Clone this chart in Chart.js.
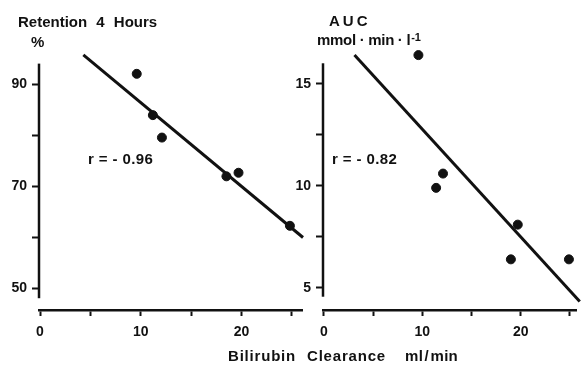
<!DOCTYPE html>
<html>
<head>
<meta charset="utf-8">
<script src="https://cdn.jsdelivr.net/npm/chart.js@4/dist/chart.umd.min.js"></script>
<style>
  body { margin: 0; background: #fff; width: 582px; height: 365px; position: relative; overflow: hidden;
         font-family: "Liberation Sans", Arial, sans-serif; font-weight: bold; color: #111; }
  .panel { position: absolute; top: 0; height: 365px; }
  .t { position: absolute; white-space: nowrap; font-size: 15px; line-height: 15px; }
  sup { font-size: 11px; position: relative; top: -4px; vertical-align: baseline; margin-left: 1px; }
</style>
</head>
<body>
<div class="panel" style="left:0;width:310px"><canvas id="left" width="310" height="365"></canvas></div>
<div class="panel" style="left:283px;width:299px"><canvas id="right" width="299" height="365"></canvas></div>

<div class="t" style="left:18px;top:14px;word-spacing:5px">Retention 4 Hours</div>
<div class="t" style="left:31px;top:34px">%</div>
<div class="t" style="left:88px;top:151px;letter-spacing:0.4px">r = - 0.96</div>
<div class="t" style="left:329px;top:13px;letter-spacing:3px">AUC</div>
<div class="t" style="left:317px;top:32px;letter-spacing:-0.3px">mmol · min · l<sup>-1</sup></div>
<div class="t" style="left:332px;top:151px;letter-spacing:0.4px">r = - 0.82</div>
<div class="t" style="left:228px;top:348px;letter-spacing:0.8px">Bilirubin</div>
<div class="t" style="left:307px;top:348px;letter-spacing:0.8px">Clearance</div>
<div class="t" style="left:405px;top:348px;letter-spacing:0.3px;word-spacing:-3px">ml / min</div>

<script>
// bilirubin clearance (ml/min) vs 4 hour retention (%)
var clearanceA = [9.6, 11.2, 12.1, 18.5, 19.7, 24.8];
var retention = [92.0, 83.9, 79.5, 71.9, 72.6, 62.2];
var fitXA = [4.3, 26.1];
var fitRetention = [95.7, 59.9];

// bilirubin clearance vs AUC (mmol.min/l)
var clearanceB = [9.6, 11.4, 12.1, 19.0, 19.7, 24.9];
var auc = [16.4, 9.9, 10.6, 6.4, 8.1, 6.4];
var fitXB = [3.1, 26.0];
var fitAuc = [16.4, 4.34];

var xLabels = [0, 10, 20];
var retentionLabels = [50, 70, 90];
var aucLabels = [5, 10, 15];

var INK = '#111';
var tickFont = { family: '"Liberation Sans", Arial, sans-serif', weight: 'bold', size: 14 };

function pairs(xs, ys) {
  return xs.map(function (x, i) { return { x: x, y: ys[i] }; });
}

// y axis line only spans part of the plot area
var axisLine = {
  id: 'axisLine',
  beforeDatasetsDraw: function (chart, args, opts) {
    var y = chart.scales.y, ctx = chart.ctx, left = chart.chartArea.left;
    ctx.save();
    ctx.strokeStyle = INK;
    ctx.lineWidth = 2.5;
    ctx.beginPath();
    ctx.moveTo(left, y.getPixelForValue(opts.from));
    ctx.lineTo(left, y.getPixelForValue(opts.to));
    ctx.stroke();
    ctx.restore();
  }
};

function makePanel(id, xs, ys, fx, fy, cfg) {
  return new Chart(document.getElementById(id), {
    type: 'scatter',
    data: {
      datasets: [
        { data: pairs(xs, ys), backgroundColor: INK, borderColor: INK, pointRadius: 4.5, pointHoverRadius: 4.5 },
        { data: pairs(fx, fy), showLine: true, borderColor: INK, borderWidth: 3, pointRadius: 0, clip: false }
      ]
    },
    options: {
      responsive: false,
      animation: false,
      layout: { padding: { top: 50, right: cfg.padRight, left: 0, bottom: 0 } },
      plugins: { legend: { display: false }, tooltip: { enabled: false }, axisLine: { from: cfg.lineFrom, to: cfg.lineTo } },
      scales: {
        x: {
          type: 'linear', min: cfg.xMin, max: cfg.xMax,
          afterFit: function (s) { s.height = 55; },
          border: { display: true, color: INK, width: 2.5 },
          grid: { drawOnChartArea: false, drawTicks: true, tickLength: 6, tickWidth: 2, tickColor: INK },
          ticks: {
            stepSize: 5, includeBounds: false, autoSkip: false, maxRotation: 0, padding: 8,
            color: INK, font: tickFont,
            callback: function (v) { return xLabels.indexOf(v) >= 0 ? String(v) : ''; }
          }
        },
        y: {
          type: 'linear', min: cfg.yMin, max: cfg.yMax,
          afterFit: function (s) { s.width = cfg.yWidth; },
          border: { display: false },
          grid: { drawOnChartArea: false, drawTicks: true, tickLength: 7, tickWidth: 2, tickColor: INK },
          ticks: {
            stepSize: cfg.yStep, includeBounds: false, autoSkip: false, padding: 5,
            color: INK, font: tickFont,
            callback: function (v) { return cfg.yLabels.indexOf(v) >= 0 ? String(v) : ''; }
          }
        }
      }
    },
    plugins: [axisLine]
  });
}

makePanel('left', clearanceA, retention, fitXA, fitRetention, {
  padRight: 8, xMin: -0.1, xMax: 26.0, yMin: 45.69, yMax: 96.67, yStep: 10,
  yWidth: 39, yLabels: retentionLabels, lineFrom: 48, lineTo: 94
});
makePanel('right', clearanceB, auc, fitXB, fitAuc, {
  padRight: 0, xMin: -0.1, xMax: 25.67, yMin: 3.92, yMax: 16.65, yStep: 2.5,
  yWidth: 40, yLabels: aucLabels, lineFrom: 4.57, lineTo: 16.0
});
</script>
</body>
</html>
